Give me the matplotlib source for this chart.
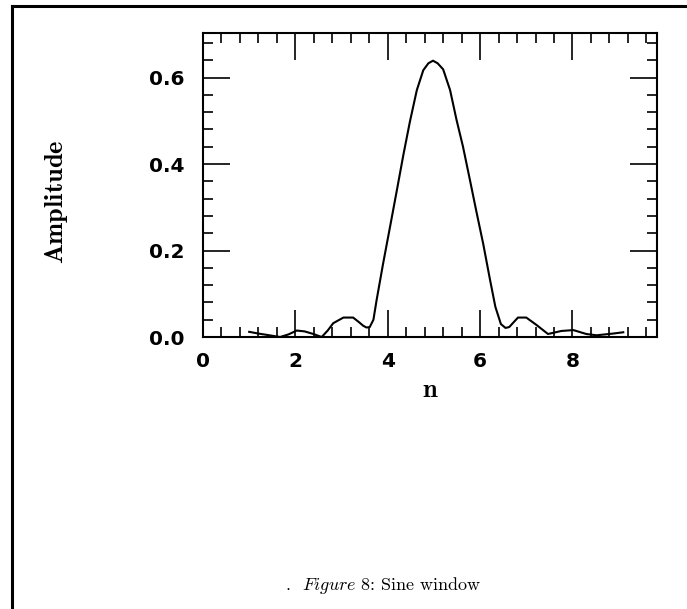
import matplotlib
matplotlib.use("Agg")
import matplotlib.pyplot as plt
from matplotlib.ticker import MultipleLocator, FormatStrFormatter
from matplotlib.lines import Line2D

plt.rcParams['mathtext.fontset'] = 'cm'

# curve (n, amplitude)
n_vals = [1.0, 1.2, 1.38, 1.55, 1.67, 1.85, 2.03, 2.2, 2.39, 2.57, 2.7, 2.82, 3.04, 3.25,
          3.37, 3.47, 3.54, 3.61, 3.69, 3.76, 3.90, 4.05, 4.19, 4.34, 4.48, 4.63, 4.77,
          4.88, 4.98, 5.08, 5.20, 5.35, 5.49, 5.63, 5.78, 5.92, 6.07, 6.21, 6.33, 6.45,
          6.55, 6.63, 6.82, 7.0, 7.22, 7.47, 7.76, 8.02, 8.3, 8.52, 8.7, 8.88, 9.1]
amp_vals = [0.012, 0.008, 0.005, 0.002, 0.0, 0.006, 0.015, 0.013, 0.007, 0.0, 0.015, 0.032,
            0.045, 0.045, 0.035, 0.026, 0.022, 0.023, 0.040, 0.086, 0.170, 0.255, 0.335,
            0.422, 0.498, 0.571, 0.617, 0.633, 0.639, 0.633, 0.619, 0.571, 0.502, 0.440,
            0.363, 0.290, 0.214, 0.135, 0.070, 0.030, 0.021, 0.023, 0.045, 0.045, 0.028,
            0.007, 0.014, 0.016, 0.007, 0.004, 0.006, 0.008, 0.011]

x_major = [0, 2, 4, 6, 8]
y_major = [0.0, 0.2, 0.4, 0.6]

fig = plt.figure(figsize=(6.87, 6.09), dpi=100)
ax = fig.add_axes([0.2955, 0.4466, 0.6608, 0.4992])
ax.plot(n_vals, amp_vals, color='black', lw=1.5)
ax.set_xlim(0, 9.83)
ax.set_ylim(0, 0.703)

ax.set_xticks(x_major)
ax.set_yticks(y_major)
ax.xaxis.set_minor_locator(MultipleLocator(0.4))
ax.yaxis.set_minor_locator(MultipleLocator(0.04))
ax.yaxis.set_major_formatter(FormatStrFormatter('%.1f'))
ax.tick_params(which='both', direction='in', top=True, right=True, width=1.2, color='black')
ax.tick_params(which='major', length=19.5)
ax.tick_params(which='minor', length=7)
ax.tick_params(axis='y', which='major', pad=13)
ax.tick_params(axis='x', which='major', pad=11)
for lab in ax.get_xticklabels() + ax.get_yticklabels():
    lab.set_fontweight('bold')
    lab.set_fontsize(14.5)
    lab.set_family('DejaVu Sans')
for sp in ax.spines.values():
    sp.set_linewidth(1.5)

fig.text(430 / 687, 1 - 390 / 609, r'$\mathbf{n}$', fontsize=19, ha='center', va='center')
fig.text(57 / 687, 1 - 202 / 609, r'$\mathbf{Amplitude}$', fontsize=19, rotation=90,
         ha='center', va='center')
fig.text(383 / 687, 1 - 585 / 609, r'.  $\mathit{Figure\ 8}$: Sine window',
         family='cmr10', fontsize=13, ha='center', va='center')

# page frame (top and left edge)
fig.add_artist(Line2D([12 / 687, 12 / 687], [0, 1 - 6 / 609], transform=fig.transFigure,
                      color='black', lw=2.2, solid_capstyle='projecting'))
fig.add_artist(Line2D([12 / 687, 1], [1 - 6 / 609, 1 - 6 / 609], transform=fig.transFigure,
                      color='black', lw=2.2, solid_capstyle='projecting'))

fig.savefig('out.png', dpi=100)
